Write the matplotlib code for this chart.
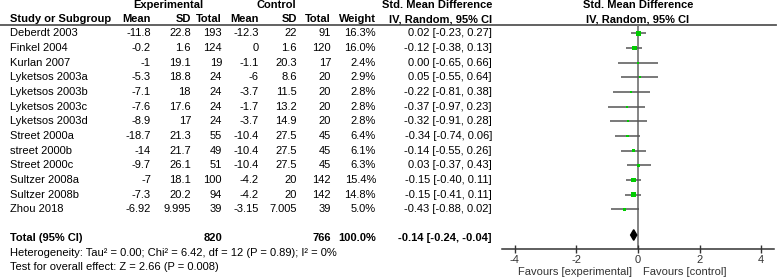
import matplotlib
matplotlib.use('Agg')
import matplotlib.pyplot as plt

plt.rcParams['font.family'] = ['Liberation Sans', 'DejaVu Sans']
plt.rcParams['font.size'] = 8

studies = ['Deberdt 2003', 'Finkel 2004', 'Kurlan 2007', 'Lyketsos 2003a', 'Lyketsos 2003b',
           'Lyketsos 2003c', 'Lyketsos 2003d', 'Street 2000a', 'street 2000b', 'Street 2000c',
           'Sultzer 2008a', 'Sultzer 2008b', 'Zhou 2018']
exp_mean = [-11.8, -0.2, -1, -5.3, -7.1, -7.6, -8.9, -18.7, -14, -9.7, -7, -7.3, -6.92]
exp_sd = [22.8, 1.6, 19.1, 18.8, 18, 17.6, 17, 21.3, 21.7, 26.1, 18.1, 20.2, 9.995]
exp_n = [193, 124, 19, 24, 24, 24, 24, 55, 49, 51, 100, 94, 39]
ctl_mean = [-12.3, 0, -1.1, -6, -3.7, -1.7, -3.7, -10.4, -10.4, -10.4, -4.2, -4.2, -3.15]
ctl_sd = [22, 1.6, 20.3, 8.6, 11.5, 13.2, 14.9, 27.5, 27.5, 27.5, 20, 20, 7.005]
ctl_n = [91, 120, 17, 20, 20, 20, 20, 45, 45, 45, 142, 142, 39]
weight = [16.3, 16.0, 2.4, 2.9, 2.8, 2.8, 2.8, 6.4, 6.1, 6.3, 15.4, 14.8, 5.0]
smd = [0.02, -0.12, 0.00, 0.05, -0.22, -0.37, -0.32, -0.34, -0.14, 0.03, -0.15, -0.15, -0.43]
ci_lo = [-0.23, -0.38, -0.65, -0.55, -0.81, -0.97, -0.91, -0.74, -0.55, -0.37, -0.40, -0.41, -0.88]
ci_hi = [0.27, 0.13, 0.66, 0.64, 0.38, 0.23, 0.28, 0.06, 0.26, 0.43, 0.11, 0.11, 0.02]

total_exp_n = 820
total_ctl_n = 766
total_weight = 100.0
total_smd = -0.14
total_lo = -0.24
total_hi = -0.04
heterogeneity = 'Heterogeneity: Tau\u00b2 = 0.00; Chi\u00b2 = 6.42, df = 12 (P = 0.89); I\u00b2 = 0%'
overall = 'Test for overall effect: Z = 2.66 (P = 0.008)'
xticks = [-4, -2, 0, 2, 4]

# layout in pixels
W, H = 784, 280
row_top, row_step = 33.3, 14.67
total_row = 14
def row_y(i):
    return row_top + row_step * i

fig = plt.figure(figsize=(W / 100, H / 100), dpi=100)
ax_t = fig.add_axes([0, 0, 1, 1])
ax_t.set_xlim(0, W)
ax_t.set_ylim(H, 0)
ax_t.axis('off')

# headers
bold = dict(fontweight='bold', va='center')
ax_t.text(168, 5, 'Experimental', ha='center', **bold)
ax_t.text(276, 5, 'Control', ha='center', **bold)
ax_t.text(437, 5, 'Std. Mean Difference', ha='center', **bold)
ax_t.text(638, 5, 'Std. Mean Difference', ha='center', **bold)
hy = 19.3
ax_t.text(10, hy, 'Study or Subgroup', ha='left', **bold)
col_x = [151, 191, 222, 259, 297, 331, 376]
for x, lab in zip(col_x, ['Mean', 'SD', 'Total', 'Mean', 'SD', 'Total', 'Weight']):
    ax_t.text(x, hy, lab, ha='right', **bold)
ax_t.text(441, hy, 'IV, Random, 95% CI', ha='center', **bold)
ax_t.text(638, hy, 'IV, Random, 95% CI', ha='center', **bold)
ax_t.plot([0, 776], [25, 25], color='#555555', lw=1.3)

ci_x = 492
for i, name in enumerate(studies):
    y = row_y(i)
    ax_t.text(10, y, name, ha='left', va='center')
    vals = [f'{exp_mean[i]:g}', f'{exp_sd[i]:g}', f'{exp_n[i]}',
            f'{ctl_mean[i]:g}', f'{ctl_sd[i]:g}', f'{ctl_n[i]}', f'{weight[i]:.1f}%']
    for x, v in zip(col_x, vals):
        ax_t.text(x, y, v, ha='right', va='center')
    ax_t.text(ci_x, y, f'{smd[i]:.2f} [{ci_lo[i]:.2f}, {ci_hi[i]:.2f}]', ha='right', va='center')

ty = row_y(total_row) - 0.8
ax_t.text(10, ty, 'Total (95% CI)', ha='left', **bold)
ax_t.text(col_x[2], ty, f'{total_exp_n}', ha='right', **bold)
ax_t.text(col_x[5], ty, f'{total_ctl_n}', ha='right', **bold)
ax_t.text(col_x[6], ty, f'{total_weight:.1f}%', ha='right', **bold)
ax_t.text(ci_x, ty, f'{total_smd:.2f} [{total_lo:.2f}, {total_hi:.2f}]', ha='right', **bold)
ax_t.text(10, 252.7, heterogeneity, ha='left', va='center')
ax_t.text(10, 267.3, overall, ha='left', va='center')

# forest panel
x0_px, unit_px = 638, 30.8
left_px, right_px = 502, 774
top_px, axis_px = 25, 249.3
ax = fig.add_axes([left_px / W, (H - axis_px) / H, (right_px - left_px) / W, (axis_px - top_px) / H])
ax.patch.set_alpha(0)
ax.set_xlim((left_px - x0_px) / unit_px, (right_px - x0_px) / unit_px)
ax.set_ylim((axis_px - row_top) / row_step, (top_px - row_top) / row_step)
for s in ['top', 'left', 'right']:
    ax.spines[s].set_visible(False)
ax.spines['bottom'].set_color('#333333')
ax.spines['bottom'].set_linewidth(1.1)
ax.set_yticks([])
ax.set_xticks(xticks)
ax.set_xticklabels([f'{t}' for t in xticks])
ax.tick_params(axis='x', direction='inout', length=6, width=1, color='#333333',
               labelsize=8, labelcolor='#333333', pad=1)

ax.axvline(0, color='#707070', lw=1.2, zorder=1)
rows = list(range(len(studies)))
ax.hlines(rows, ci_lo, ci_hi, color='#555555', lw=1.1, zorder=2)
ax.scatter(smd, rows, s=[0.7 * w for w in weight], marker='s', color='#00cc00',
           edgecolors='none', zorder=3)
dy = total_row - 0.25
dh = 5.3 / row_step
ax.fill([total_lo, total_smd, total_hi, total_smd],
        [dy, dy - dh, dy, dy + dh], color='black', zorder=3)

ax_t.text(632, 272, 'Favours [experimental]', ha='right', va='center', color='#333333')
ax_t.text(643, 272, 'Favours [control]', ha='left', va='center', color='#333333')

fig.savefig('out.png', dpi=100)
